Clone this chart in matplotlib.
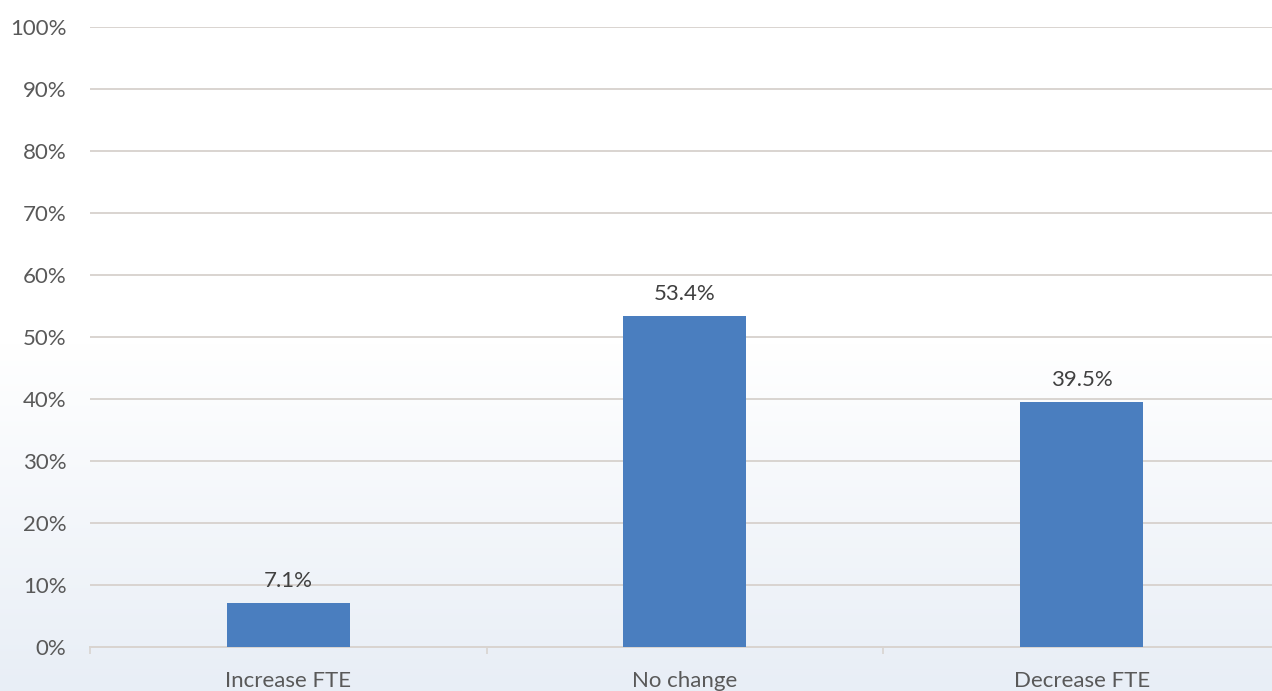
import numpy as np
import matplotlib.pyplot as plt
from matplotlib.colors import LinearSegmentedColormap

# datos
categorias = ['Increase FTE', 'No change', 'Decrease FTE']
valores = [7.1, 53.4, 39.5]
ticks_y = list(range(0, 101, 10))

plt.rcParams['font.family'] = ['Lato', 'DejaVu Sans']

fig = plt.figure(figsize=(12.72, 6.91), dpi=100)

# fondo con degradado suave
bg = fig.add_axes([0, 0, 1, 1], zorder=-1)
grad = np.linspace(0, 1, 256).reshape(-1, 1)
cmap = LinearSegmentedColormap.from_list('bg', ['#e8eef6', '#ffffff', '#ffffff'])
bg.imshow(grad, aspect='auto', cmap=cmap, origin='lower', extent=[0, 1, 0, 1])
bg.axis('off')

ax = fig.add_axes([90 / 1272, 1 - 647 / 691, 1182 / 1272, 620 / 691])
ax.patch.set_alpha(0)

x = np.arange(len(categorias))
ax.bar(x, valores, width=0.31, color='#4a7ebf', zorder=3)
for xi, v in zip(x, valores):
    ax.text(xi, v + 2.0, f'{v:.1f}%', ha='center', va='bottom',
            fontsize=16, color='#404040')

ax.set_ylim(0, 100)
ax.set_xlim(-0.5, 2.48)
ax.set_yticks(ticks_y)
ax.set_yticklabels([f'{t}%' for t in ticks_y], fontsize=16, color='#595959')
ax.yaxis.grid(True, color='#d9d4d0', linewidth=1.4, zorder=0)
ax.tick_params(axis='y', length=0, pad=17)

ax.set_xticks(x)
ax.set_xticklabels(categorias, fontsize=16, color='#595959')
ax.set_xticks([-0.5, 0.5, 1.5], minor=True)
ax.tick_params(axis='x', which='major', length=0, pad=17)
ax.tick_params(axis='x', which='minor', length=5, color='#d9d4d0', width=1.2)

for s in ['top', 'right', 'left']:
    ax.spines[s].set_visible(False)
ax.spines['bottom'].set_color('#d9d4d0')
ax.spines['bottom'].set_linewidth(1.4)

fig.savefig('out.png', dpi=100)
